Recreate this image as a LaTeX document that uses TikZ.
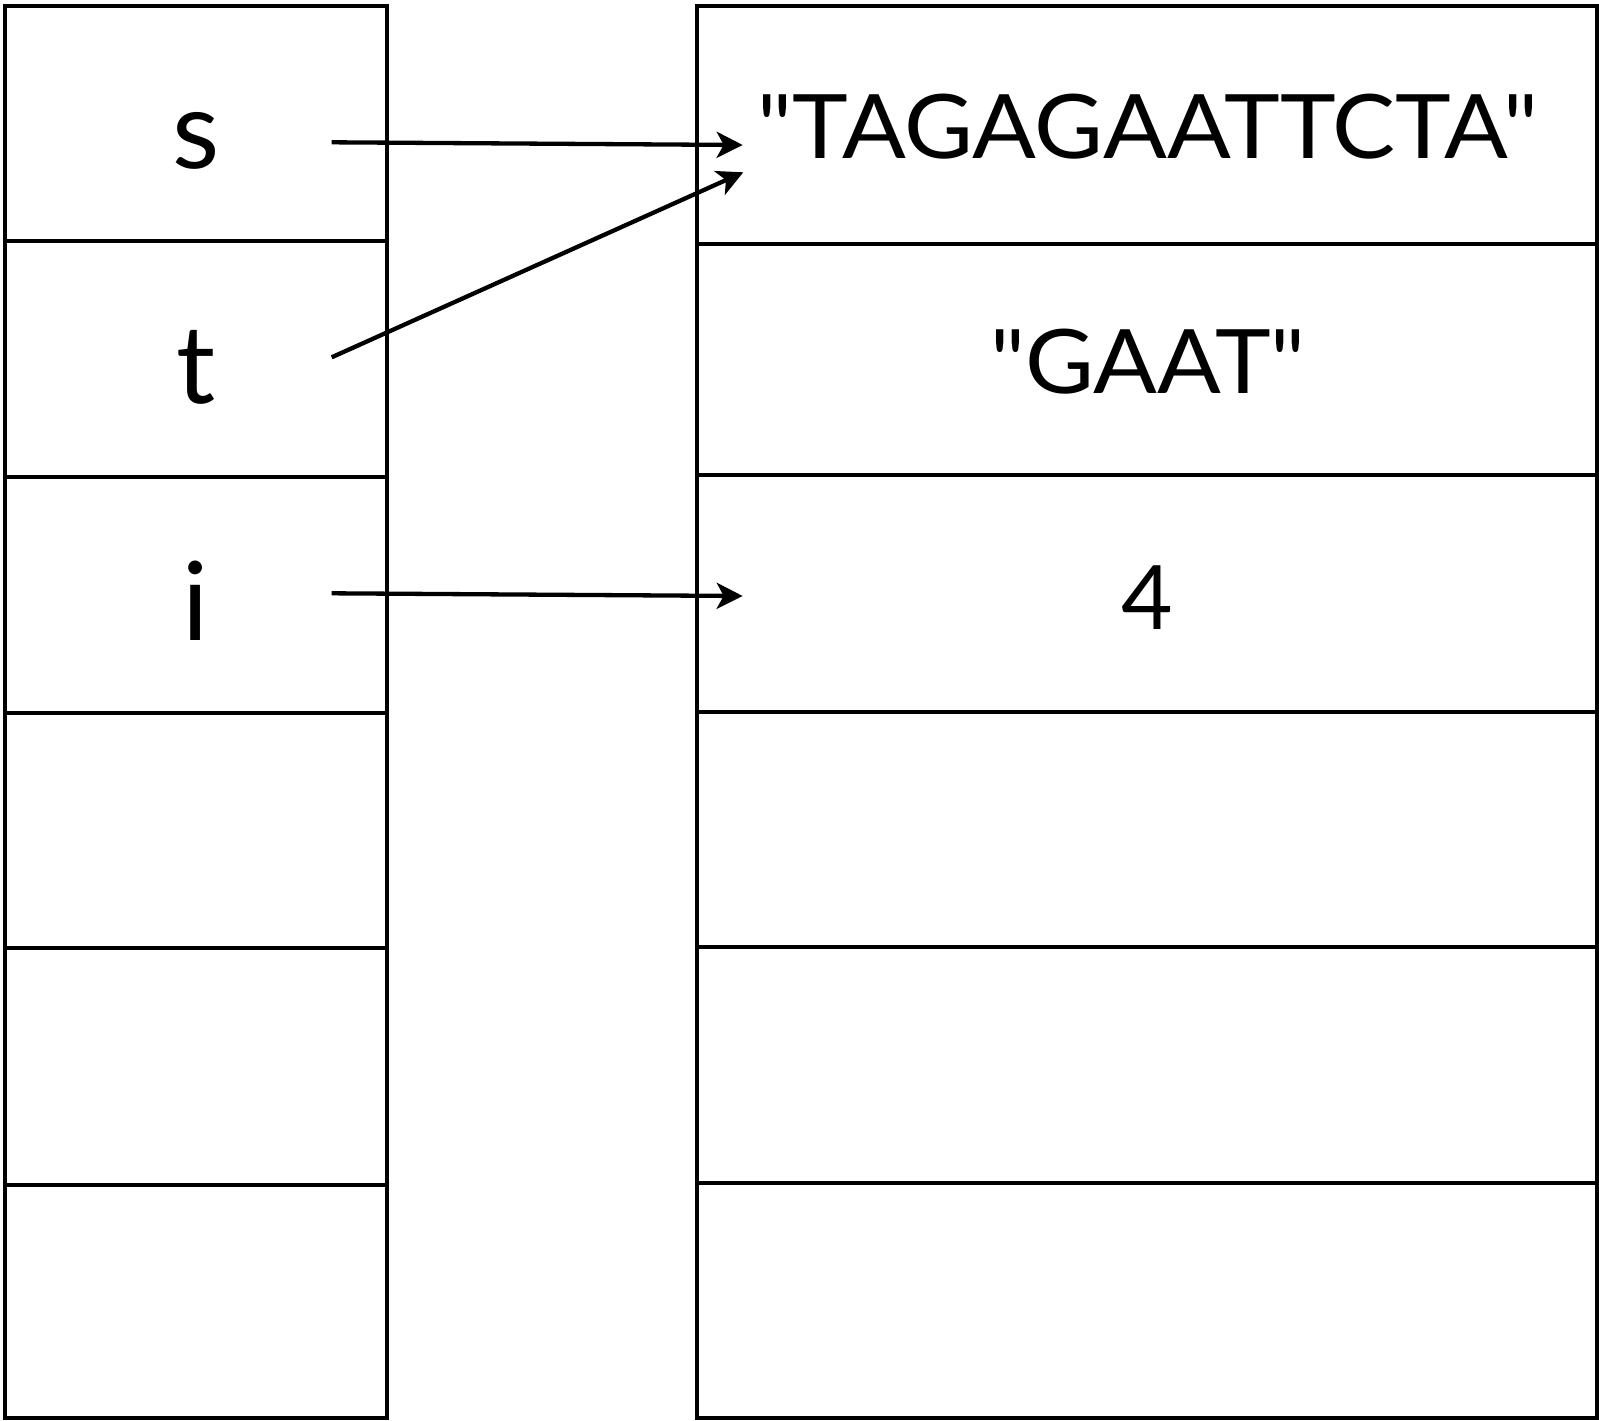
\documentclass[tikz,border=0pt]{standalone}
\usepackage{fontspec}
\setmainfont{Lato}[Ligatures=TeXOff]
\usetikzlibrary{arrows.meta}
\tikzset{
  cell/.style={draw=black, line width=4.3pt, rectangle, inner sep=0pt, outer sep=0pt},
  lcell/.style={cell, minimum width=382pt},
  rcell/.style={cell, minimum width=900pt},
  ptr/.style={draw=black, line width=4.3pt, -{Stealth[length=26pt,width=26pt,inset=7pt]}},
  lbl/.style={inner sep=0pt, anchor=base, font=\fontsize{109}{120}\selectfont},
  val/.style={inner sep=0pt, anchor=base, font=\fontsize{89}{100}\selectfont}
}
\begin{document}
\begin{tikzpicture}[x=1pt,y=-1pt]
\useasboundingbox (0,0) rectangle (1599,1421);
% left column cells (x 5..387)
\node[lcell, minimum height=235pt] (L1) at (196,123.5) {};
\node[lcell, minimum height=236pt] (L2) at (196,359) {};
\node[lcell, minimum height=236pt] (L3) at (196,595) {};
\node[lcell, minimum height=235pt] (L4) at (196,830.5) {};
\node[lcell, minimum height=237pt] (L5) at (196,1066.5) {};
\node[lcell, minimum height=233pt] (L6) at (196,1301.5) {};
% right column cells (x 697..1597)
\node[rcell, minimum height=238pt] (R1) at (1147,125) {};
\node[rcell, minimum height=231pt] (R2) at (1147,359.5) {};
\node[rcell, minimum height=237pt] (R3) at (1147,593.5) {};
\node[rcell, minimum height=235pt] (R4) at (1147,829.5) {};
\node[rcell, minimum height=236pt] (R5) at (1147,1065) {};
\node[rcell, minimum height=235pt] (R6) at (1147,1300.5) {};
% labels
\node[lbl] (ls) at (196,168) {s};
\node[lbl] (lt) at (196,403) {t};
\node[lbl] (li) at (196,640) {i};
% values
\node[val] (v1) at (1148,158) {\scalebox{1.06}[1]{"TAGAGAATTCTA"}};
\node[val] (v2) at (1148,393) {\scalebox{1.06}[1]{"GAAT"}};
\node[val] (v3) at (1147,629) {\scalebox{1.0}[1]{4}};
% pointer anchors
\coordinate (ps) at (331.7,142.3);
\coordinate (pt) at (331.7,357.3);
\coordinate (pi) at (331.7,593.3);
\coordinate (ts) at (742.7,145);
\coordinate (tt) at (743.3,172.3);
\coordinate (ti) at (742.7,596);
\draw[ptr] (ps) -- (ts);
\draw[ptr] (pt) -- (tt);
\draw[ptr] (pi) -- (ti);
\end{tikzpicture}
\end{document}
